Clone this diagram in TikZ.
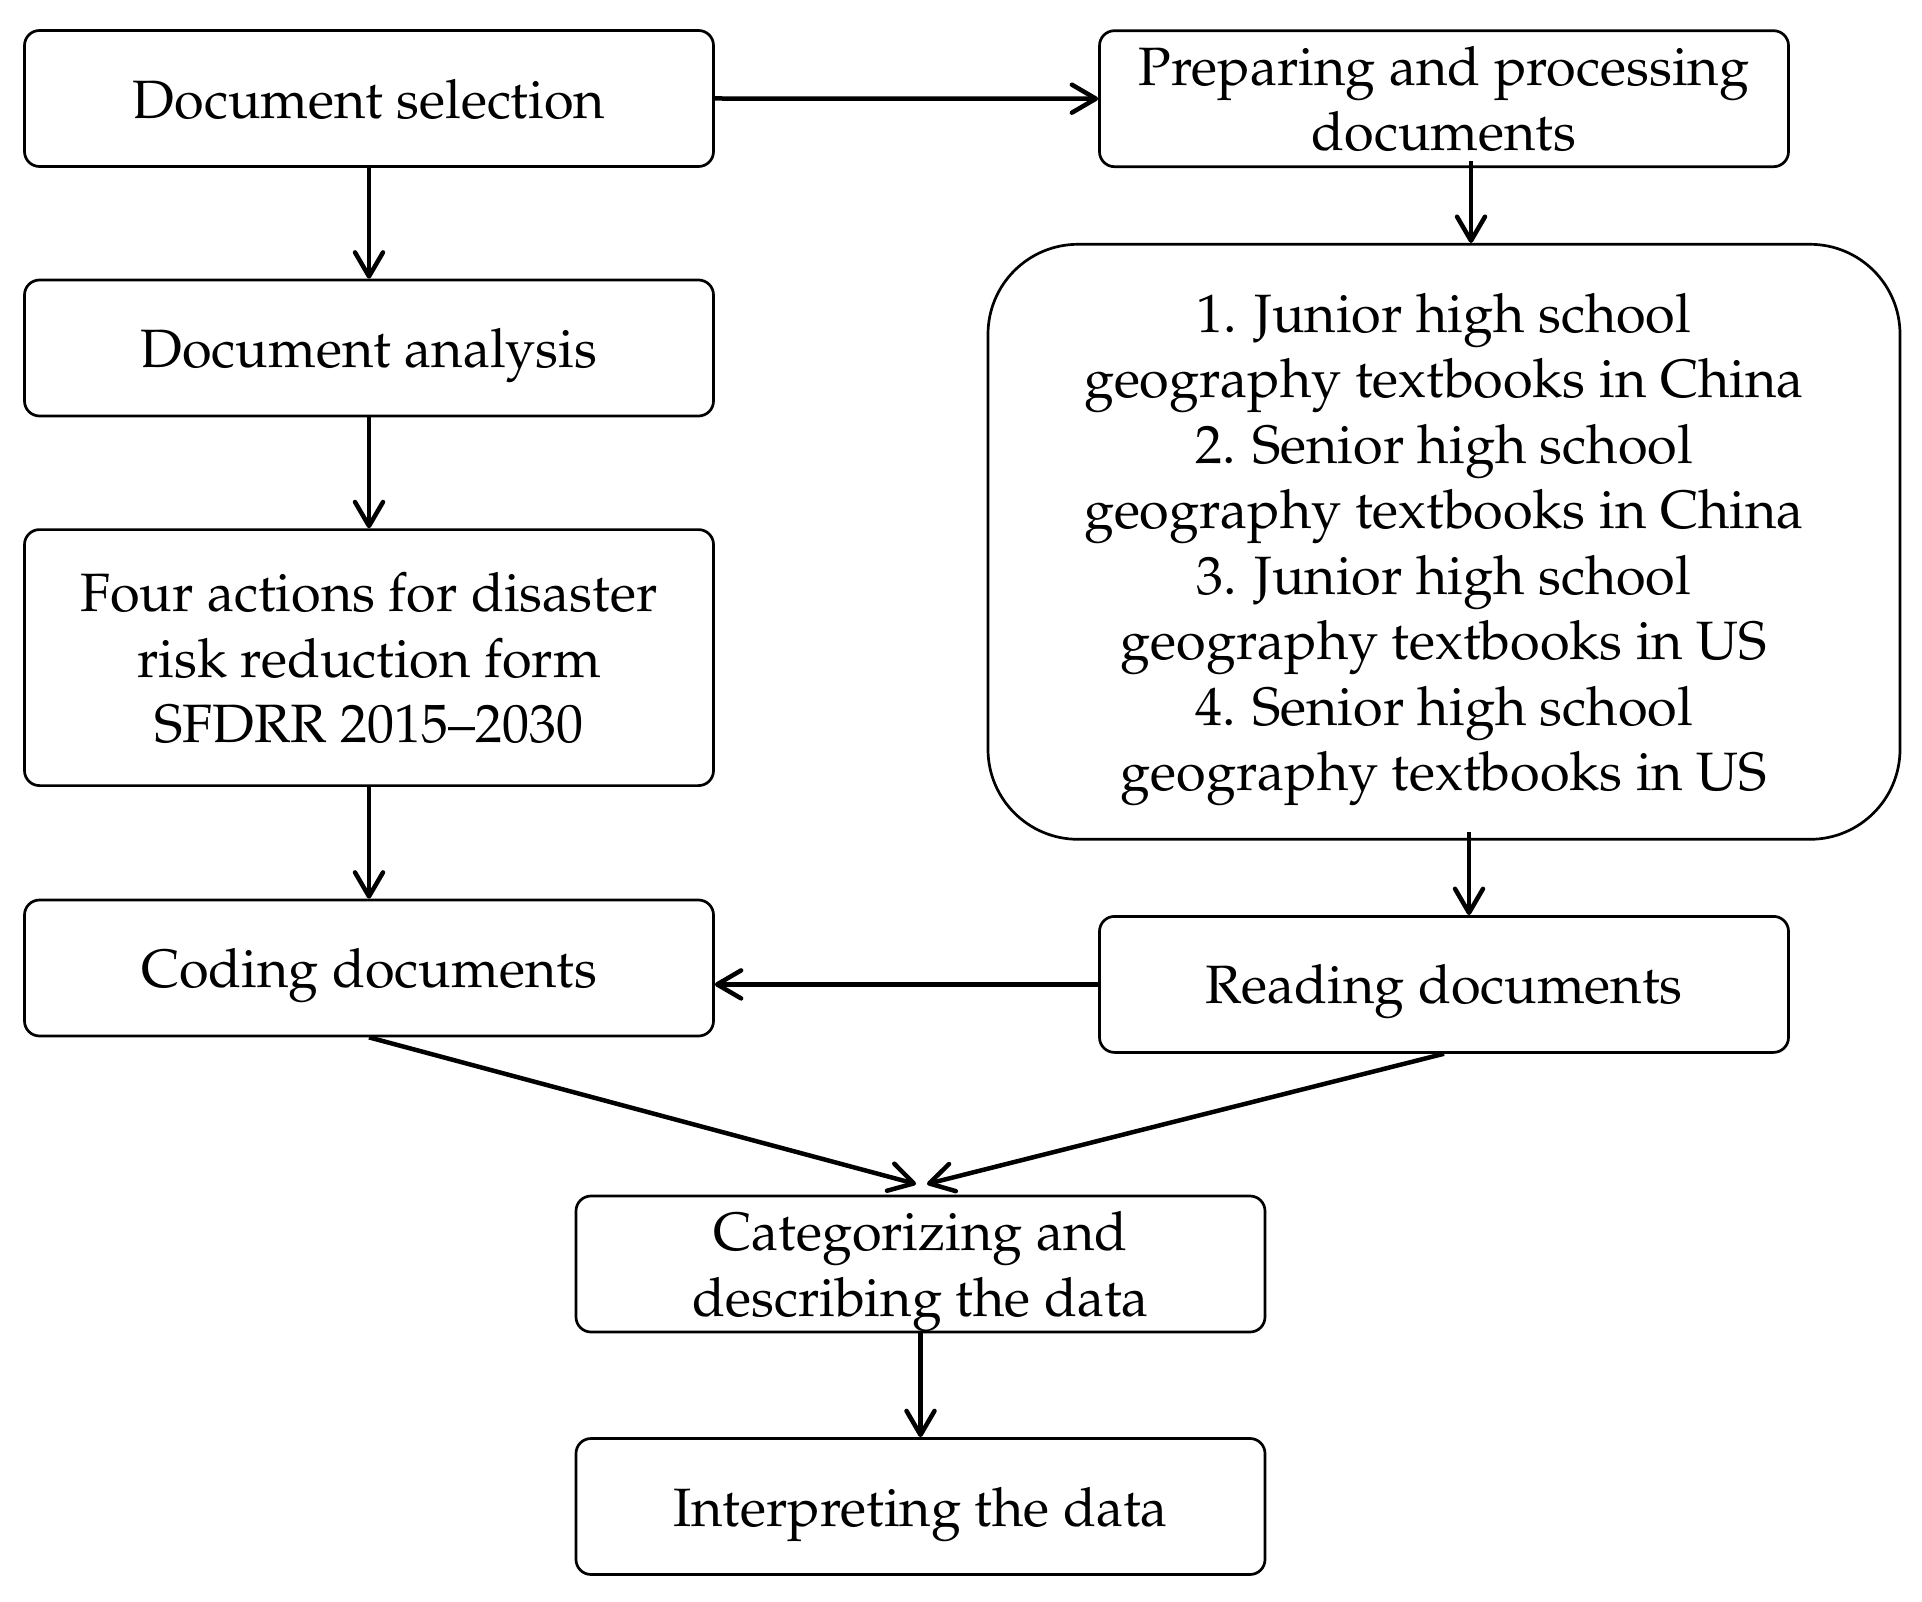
\documentclass[tikz,border=0pt]{standalone}
\usepackage[T1]{fontenc}
\usepackage{mathpazo}
\usetikzlibrary{arrows.meta}
\begin{document}
\begin{tikzpicture}[x=1pt,y=-1pt,
  box/.style={draw, line width=2.7pt, rounded corners=15pt, minimum width=689pt,
    minimum height=136pt, inner sep=0pt, align=center, text depth=0pt,
    font=\fontsize{54}{65.5}\selectfont},
  arr/.style={line width=4.5pt, -{Straight Barb[length=24pt,width=28pt,line cap=round,line join=round]}}
]
\useasboundingbox (0,0) rectangle (1922,1602);
\node[box] (sel) at (369,98.5) {Document selection};
\node[box] (ana) at (369,348) {Document analysis};
\node[box, minimum height=256pt] (four) at (369,657.6) {Four actions for disaster\\risk reduction form\\SFDRR 2015--2030};
\node[box] (cod) at (369,968) {Coding documents};
\node[box] (prep) at (1444,98.7) {Preparing and processing\\documents};
\node[box, minimum width=912pt, minimum height=595pt, rounded corners=90pt] (big) at (1444,541.8)
  {1. Junior high school\\geography textbooks in China\\2. Senior high school\\geography textbooks in China\\3. Junior high school\\geography textbooks in US\\4. Senior high school\\geography textbooks in US};
\node[box] (read) at (1444,984.4) {Reading documents};
\node[box] (cat) at (920.5,1264) {Categorizing and\\describing the data};
\node[box] (int) at (920.5,1506.5) {Interpreting the data};
\coordinate (tipL) at (916,1184);
\coordinate (tipR) at (927,1184);
\draw[arr] (sel.east) -- (prep.west);
\draw[arr] (sel.south) -- (ana.north);
\draw[arr] (ana.south) -- (four.north);
\draw[arr] (four.south) -- (cod.north);
\draw[arr] ([xshift=27pt,yshift=7pt]prep.south) -- ([xshift=27pt]big.north);
\draw[arr] ([xshift=25pt,yshift=9pt]big.south) -- ([xshift=25pt]read.north);
\draw[arr] (read.west) -- (read.west -| cod.east);
\draw[arr] (cod.south) -- (tipL);
\draw[arr] (read.south) -- (tipR);
\draw[arr] (cat.south) -- (int.north);
\end{tikzpicture}
\end{document}
